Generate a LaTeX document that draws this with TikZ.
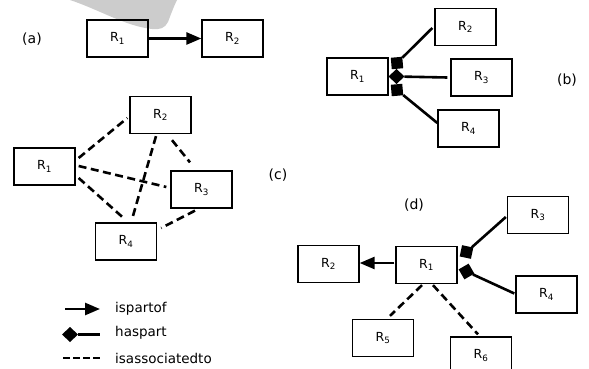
\documentclass[tikz,border=0pt]{standalone}
\usepackage{fontspec}
\setmainfont{DejaVu Sans}
\usetikzlibrary{arrows.meta,shapes.geometric}
\tikzset{
  box/.style={draw, line width=1.3pt, minimum width=61pt, minimum height=37pt, inner sep=0pt, font=\fontsize{12.5}{14}\selectfont},
  lbl/.style={font=\fontsize{14}{16}\selectfont, inner sep=0pt},
  leg/.style={font=\fontsize{13.5}{15}\selectfont, inner sep=0pt, anchor=west},
  conn/.style={line width=2.6pt},
  isp/.style={conn, -{Triangle[length=15pt,width=12pt]}},
  assoc/.style={line width=2.6pt, dash pattern=on 8pt off 4.5pt},
  sqmark/.style={fill, minimum size=11.5pt, inner sep=0pt, outer sep=0pt},
  diamark/.style={diamond, fill, minimum width=16pt, minimum height=15pt, inner sep=0pt, outer sep=0pt},
}
\newcommand{\Rn}[1]{R\textsubscript{#1}}
\begin{document}
\begin{tikzpicture}[x=1pt,y=-1pt]
\useasboundingbox (0,0) rectangle (589,369);
% watermark
\fill[gray!40] (70,0) .. controls (100,10) and (125,26) .. (152,29) .. controls (160,30) and (165,28) .. (168,22) .. controls (171,14) and (174,6) .. (177,0) -- cycle;

% (a)
\node[lbl] (la) at (32,39) {(a)};
\node[box] (a1) at (117.5,38.5) {\Rn{1}};
\node[box] (a2) at (232.5,38.5) {\Rn{2}};
\draw[isp] (a1.east) -- (a2.west);

% (b)
\node[lbl] (lb) at (567,80) {(b)};
\node[box] (b1) at (357.5,76.5) {\Rn{1}};
\node[box] (b2) at (465.5,27) {\Rn{2}};
\node[box] (b3) at (481.5,77.5) {\Rn{3}};
\node[box] (b4) at (468.5,128.5) {\Rn{4}};
\node[sqmark, rotate=5] (bs1) at (397,63) {};
\node[diamark] (bd) at (396.5,76.5) {};
\node[sqmark, rotate=5] (bs2) at (397,90) {};
\draw[conn] (bs1) -- ([shift={(-2,1)}]b2.west);
\draw[conn] (bd) -- ([shift={(-3,0)}]b3.west);
\draw[conn] (bs2) -- ([shift={(0,-5.5)}]b4.west);

% (c)
\node[lbl] (lc) at (278,175) {(c)};
\node[box] (c1) at (44.5,166.5) {\Rn{1}};
\node[box] (c2) at (160.5,115) {\Rn{2}};
\node[box] (c3) at (201.5,189.5) {\Rn{3}};
\node[box] (c4) at (126,241.5) {\Rn{4}};
\draw[assoc] ([shift={(3,-8.5)}]c1.east) -- ([shift={(-2,3)}]c2.west);
\draw[assoc] ([shift={(3,-0.5)}]c1.east) -- ([shift={(-4,-2.5)}]c3.west);
\draw[assoc] ([shift={(3,11.5)}]c1.east) -- ([shift={(-1,-3)}]c4.north);
\draw[assoc] ([shift={(-4.5,2)}]c2.south) -- ([shift={(6,-3)}]c4.north);
\draw[assoc] ([shift={(11.5,6)}]c2.south) -- ([shift={(-11.5,-8)}]c3.north);
\draw[assoc] ([shift={(-6.5,2)}]c3.south) -- ([shift={(4,-13.5)}]c4.east);

% (d)
\node[lbl] (ld) at (414,205) {(d)};
\node[box] (d1) at (426.5,265) {\Rn{1}};
\node[box] (d2) at (328.5,264) {\Rn{2}};
\node[box] (d3) at (538,215) {\Rn{3}};
\node[box] (d4) at (546.5,294.5) {\Rn{4}};
\node[box] (d5) at (383,338) {\Rn{5}};
\node[box] (d6) at (481,355.5) {\Rn{6}};
\draw[isp] ([shift={(-1,-2)}]d1.west) -- ([shift={(0,-1)}]d2.east);
\node[sqmark, rotate=-12] (ds1) at (466.5,252) {};
\node[sqmark, rotate=30] (ds2) at (466.5,271.5) {};
\draw[conn] (ds1) -- ([shift={(-1,2)}]d3.west);
\draw[conn] (ds2) -- ([shift={(-1,-1)}]d4.west);
\draw[assoc] ([shift={(-4.5,1)}]d1.south) -- ([shift={(7,-3)}]d5.north);
\draw[assoc] ([shift={(6.5,1)}]d1.south) -- ([shift={(-3,-2)}]d6.north);

% legend
\coordinate (l1a) at (65,309);
\coordinate (l1b) at (100,309);
\draw[isp] (l1a) -- (l1b);
\node[diamark] (l2d) at (70,334.5) {};
\coordinate (l2b) at (100,334.5);
\draw[conn] (l2d) -- (l2b);
\coordinate (l3a) at (63,358);
\coordinate (l3b) at (100,358);
\draw[line width=2.6pt, dash pattern=on 6.5pt off 3.5pt] (l3a) -- (l3b);
\node[leg] (t1) at (115,309) {ispartof};
\node[leg] (t2) at (115,333) {haspart};
\node[leg] (t3) at (115,358) {isassociatedto};
\end{tikzpicture}
\end{document}
